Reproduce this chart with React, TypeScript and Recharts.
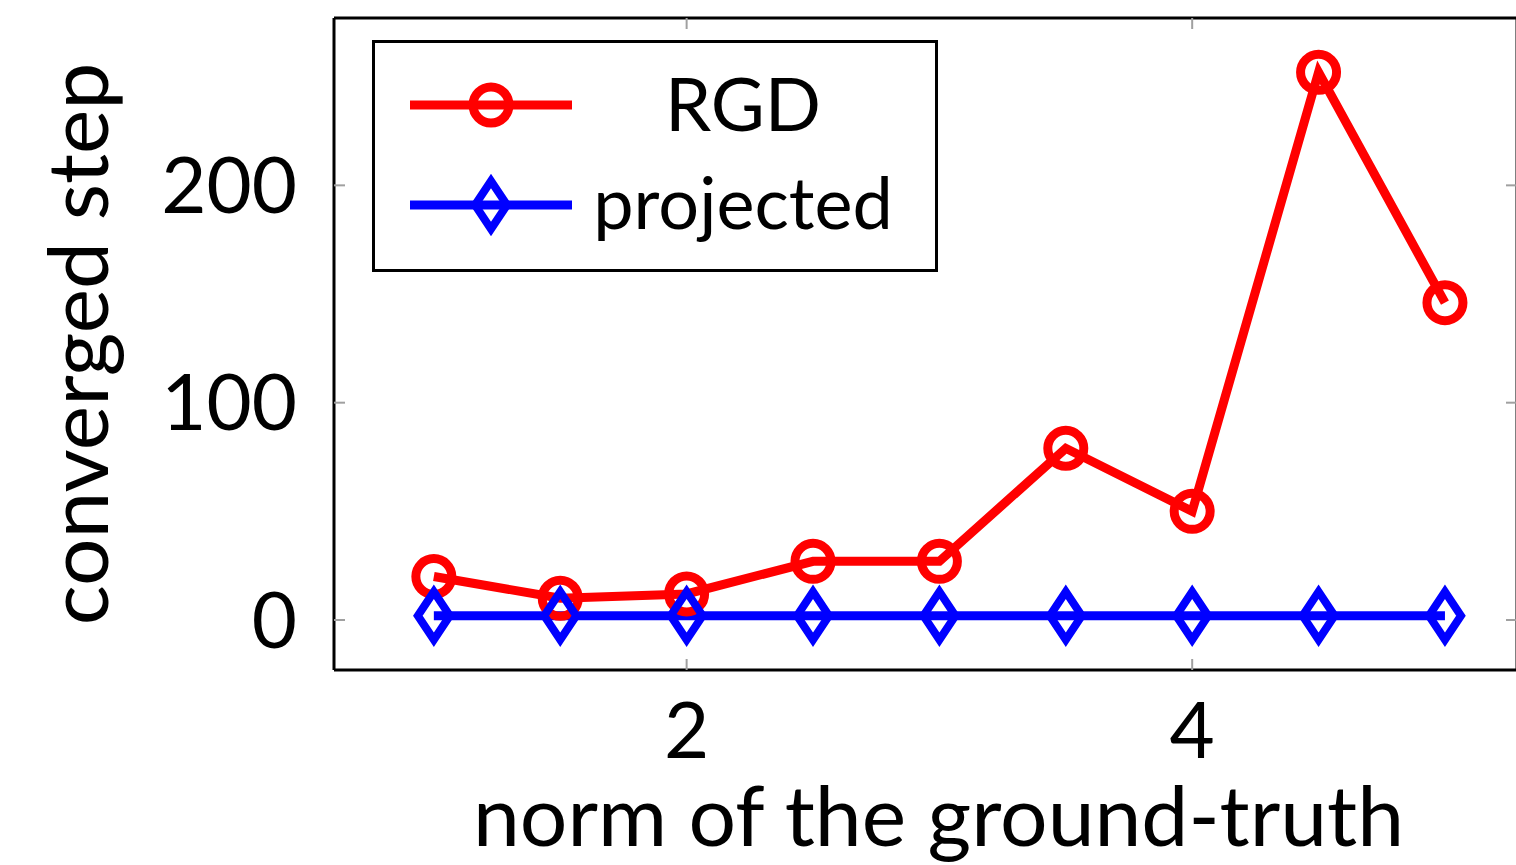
import { LineChart, Line, XAxis, YAxis, Label } from 'recharts'

// norm of the ground-truth vs. steps needed to converge
const normValues = [1, 1.5, 2, 2.5, 3, 3.5, 4, 4.5, 5]
const rgdSteps = [20, 10, 12, 27, 27, 79, 50, 252, 146]
const projectedSteps = [2, 2, 2, 2, 2, 2, 2, 2, 2]
const xTicks = [2, 4]
const yTicks = [0, 100, 200]
const seriesNames = ['RGD', 'projected']

const data = normValues.map((n, i) => ({ n, rgd: rgdSteps[i], projected: projectedSteps[i] }))

const FONT = 'Lato, sans-serif'
const RED = '#ff0000'
const BLUE = '#0000ff'
const TICK = { stroke: '#a0a0a0', strokeWidth: 2 }
const FRAME = { stroke: '#000', strokeWidth: 3 }

const ring = (cx: number, cy: number, key?: any) => (
  <circle key={key} cx={cx} cy={cy} r={18} fill="none" stroke={RED} strokeWidth={9} />
)
const diamond = (cx: number, cy: number, key?: any) => (
  <path
    key={key}
    d={`M${cx},${cy - 24}L${cx + 16},${cy}L${cx},${cy + 24}L${cx - 16},${cy}Z`}
    fill="none"
    stroke={BLUE}
    strokeWidth={8}
  />
)

const RingDot = (p: any) => ring(p.cx, p.cy, p.index)
const DiamondDot = (p: any) => diamond(p.cx, p.cy, p.index)
// mirrored axes only show their inward tick marks
const NoLabel = () => <g />

function LegendBox() {
  return (
    <div
      style={{
        position: 'absolute', left: 372, top: 40, width: 566, height: 232,
        border: '3px solid #000', boxSizing: 'border-box', background: '#fff',
      }}
    >
      <svg width={560} height={226} style={{ display: 'block' }}>
        <line x1={35} x2={197} y1={62} y2={62} stroke={RED} strokeWidth={9} />
        {ring(116, 62)}
        <text x={368} y={88} textAnchor="middle" fontSize={74} fontFamily={FONT}>{seriesNames[0]}</text>
        <line x1={35} x2={197} y1={162} y2={162} stroke={BLUE} strokeWidth={9} />
        {diamond(116, 162)}
        <text x={368} y={186} textAnchor="middle" fontSize={72} fontFamily={FONT}>{seriesNames[1]}</text>
      </svg>
    </div>
  )
}

export default function App() {
  return (
    <div style={{ position: 'relative', width: 1530, height: 865 }}>
      <style>{'body{margin:0;overflow:hidden}'}</style>
      <LineChart width={1530} height={865} data={data} margin={{ top: 17, right: 12, bottom: 0, left: 0 }}>
        <XAxis
          xAxisId="b" dataKey="n" type="number" domain={[0.605, 5.285]} ticks={xTicks} allowDataOverflow
          height={195} axisLine={FRAME} tickLine={TICK} tickSize={-11} tickMargin={44}
          tick={{ fontSize: 78, fill: '#000', fontFamily: FONT }}
        >
          <Label
            content={(p: any) => (
              <text x={p.viewBox.x + p.viewBox.width / 2 + 13} y={846} textAnchor="middle" fontSize={84} fontFamily={FONT}>
                norm of the ground-truth
              </text>
            )}
          />
        </XAxis>
        <XAxis
          xAxisId="t" dataKey="n" type="number" orientation="top" domain={[0.605, 5.285]} ticks={xTicks}
          allowDataOverflow height={1} axisLine={FRAME} tickLine={TICK} tickSize={-11} tick={NoLabel}
        />
        <YAxis
          yAxisId="l" type="number" domain={[-23, 277]} ticks={yTicks} allowDataOverflow width={334}
          axisLine={FRAME} tickLine={TICK} tickSize={-11} tickMargin={48}
          tick={{ fontSize: 78, fill: '#000', fontFamily: FONT }}
        >
          <Label
            content={(p: any) => {
              const cy = p.viewBox.y + p.viewBox.height / 2
              return (
                <text x={108} y={cy} transform={`rotate(-90 108 ${cy})`} textAnchor="middle" fontSize={84} fontFamily={FONT}>
                  converged step
                </text>
              )
            }}
          />
        </YAxis>
        <YAxis
          yAxisId="r" type="number" orientation="right" domain={[-23, 277]} ticks={yTicks} allowDataOverflow
          width={1} axisLine={FRAME} tickLine={TICK} tickSize={-11} tick={NoLabel}
        />
        <Line
          xAxisId="b" yAxisId="l" type="linear" dataKey="rgd" name={seriesNames[0]} stroke={RED} strokeWidth={9}
          dot={RingDot} activeDot={false} isAnimationActive={false}
        />
        <Line
          xAxisId="b" yAxisId="l" type="linear" dataKey="projected" name={seriesNames[1]} stroke={BLUE} strokeWidth={9}
          dot={DiamondDot} activeDot={false} isAnimationActive={false}
        />
      </LineChart>
      <LegendBox />
    </div>
  )
}
